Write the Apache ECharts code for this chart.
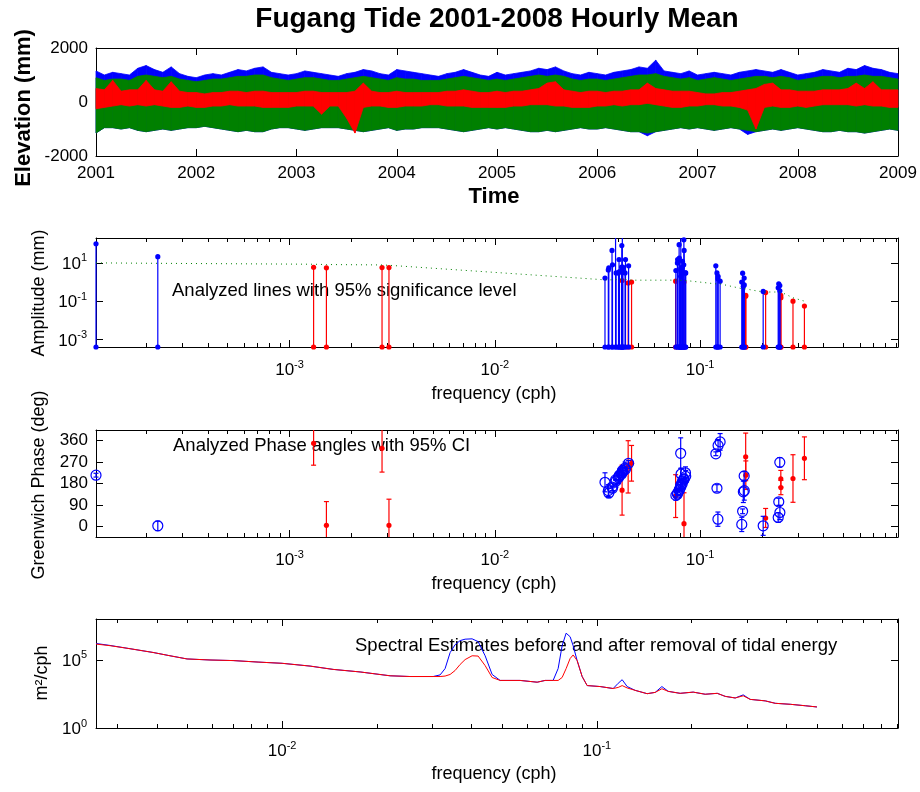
<!DOCTYPE html>
<html><head><meta charset="utf-8">
<script src="https://cdn.jsdelivr.net/npm/echarts@6.0.0/dist/echarts.min.js"></script>
<style>html,body{margin:0;padding:0;background:#fff}#c{width:920px;height:792px}</style>
</head><body><div id="c"></div>
<script>
const FONT = '"Liberation Sans", Arial, Helvetica, sans-serif';

// ---------- Panel 1: hourly elevation envelopes (mm), monthly, Jan 2001 .. Jan 2009 ----------
const obsMax = [1150,1000,1100,1050,1000,1250,1350,1200,1100,1300,1050,950,
 900,1000,1050,1000,1100,1200,1150,1250,1300,1100,1050,1000,
 1050,1150,1100,1050,1000,950,1050,1100,1200,1150,1050,1000,
 1200,1150,1100,1050,1000,950,1050,1100,1200,1100,1000,950,
 1100,1000,1050,1100,1150,1250,1200,1300,1150,1050,1000,1100,
 1050,1000,1100,1150,1200,1300,1250,1550,1150,1100,1050,1150,
 1000,1050,1100,1050,1000,1100,1150,1200,1150,1100,1200,1100,
 1000,1050,1100,1200,1150,1100,1250,1200,1350,1250,1200,1100,
 1050];
const obsMin = [-1150,-950,-950,-1000,-950,-1050,-1100,-1050,-1000,-1050,-1000,-950,
 -950,-900,-950,-1000,-1050,-1100,-1050,-1100,-1100,-1000,-950,-950,
 -1000,-1050,-1000,-950,-950,-950,-1000,-1050,-1100,-1050,-1000,-950,
 -1050,-1000,-1000,-950,-950,-950,-1000,-1050,-1100,-1050,-1000,-950,
 -1000,-950,-1000,-1050,-1100,-1100,-1050,-1100,-1050,-1000,-950,-1000,
 -1000,-950,-1000,-1050,-1100,-1100,-1250,-1100,-1050,-1000,-950,-1000,
 -950,-1000,-1050,-1000,-950,-1000,-1200,-1100,-1050,-1000,-1050,-1000,
 -950,-1000,-1050,-1100,-1100,-1050,-1100,-1100,-1150,-1100,-1050,-1000,
 -1050];
const predMax = [900,800,850,850,800,950,1000,950,900,950,850,800,
 750,800,850,850,900,950,950,1000,1000,900,850,800,
 850,900,900,850,800,800,850,900,950,900,850,800,
 900,850,850,800,800,800,850,900,950,900,850,800,
 850,800,850,900,950,1000,950,1000,950,850,800,850,
 850,800,850,900,950,1000,1000,1050,950,900,850,900,
 800,850,900,850,800,850,900,950,950,900,950,900,
 800,850,900,950,950,900,950,950,1000,950,950,900,
 850];
const predMin = [-1150,-950,-950,-1000,-950,-1050,-1100,-1050,-1000,-1050,-1000,-950,
 -950,-900,-950,-1000,-1050,-1100,-1050,-1100,-1100,-1000,-950,-950,
 -1000,-1050,-1000,-950,-950,-950,-1000,-1050,-1100,-1050,-1000,-950,
 -1050,-1000,-1000,-950,-950,-950,-1000,-1050,-1100,-1050,-1000,-950,
 -1000,-950,-1000,-1050,-1100,-1100,-1050,-1100,-1050,-1000,-950,-1000,
 -1000,-950,-1000,-1050,-1100,-1100,-1150,-1100,-1050,-1000,-950,-1000,
 -950,-1000,-1050,-1000,-950,-1000,-1050,-1100,-1050,-1000,-1050,-1000,
 -950,-1000,-1050,-1100,-1100,-1050,-1100,-1100,-1150,-1100,-1050,-1000,
 -1050];
const resMax = [500,450,800,400,450,450,800,450,400,750,400,350,
 350,300,350,350,400,400,350,400,400,350,350,350,
 350,400,400,350,350,350,350,400,700,400,350,350,
 400,350,350,350,350,350,400,400,450,400,350,350,
 400,350,400,400,450,500,700,750,450,400,350,400,
 400,350,400,400,450,450,700,500,450,400,400,400,
 350,300,300,350,350,400,450,500,650,700,450,450,
 400,400,400,450,450,450,500,700,500,750,450,450,
 450];
const resMin = [-250,-200,-150,-100,-150,-100,-150,-100,-150,-200,-200,-150,
 -200,-200,-150,-150,-100,-150,-150,-150,-200,-200,-200,-200,
 -150,-150,-150,-450,-150,-150,-600,-1150,-200,-150,-150,-200,
 -200,-150,-150,-150,-100,-100,-150,-150,-150,-200,-200,-200,
 -200,-200,-150,-150,-100,-100,-100,-150,-150,-200,-200,-200,
 -150,-150,-100,-150,-100,-100,-50,-100,-150,-200,-200,-150,
 -150,-100,-100,-150,-150,-200,-300,-1000,-200,-150,-200,-200,
 -150,-200,-150,-100,-100,-100,-100,-150,-100,-150,-150,-200,
 -200];

// ---------- Panels 2,3: tidal constituents ----------
const constNames = ['SA','SSA','MSM','MM','MSF','MF',
 'ALP1','2Q1','SIG1','Q1','RHO1','O1','TAU1','BET1','NO1','CHI1','PI1','P1','S1','K1','PSI1','PHI1','THE1','J1','SO1','OO1','UPS1',
 'OQ2','EPS2','2N2','MU2','N2','NU2','GAM2','H1','M2','H2','MKS2','LDA2','L2','T2','S2','R2','K2','MSN2','ETA2',
 'MO3','M3','SO3','MK3','SK3',
 'MN4','M4','SN4','MS4','MK4','S4','SK4',
 '2MK5','2SK5',
 '2MN6','M6','2MS6','2MK6','2SM6','MSK6',
 '3MK7','M8'];
const constFreq = [0.0001141,0.0002282,0.0013098,0.0015122,0.0028219,0.0030501,
 0.0343966,0.0357064,0.0359087,0.0372185,0.0374209,0.0387307,0.0389588,0.0400404,0.0402686,0.0404710,0.0414463,0.0415526,0.0416667,0.0417807,0.0418948,0.0420089,0.0430905,0.0432929,0.0446027,0.0448308,0.0463430,
 0.0759749,0.0761773,0.0774871,0.0776895,0.0789992,0.0792016,0.0803973,0.0804911,0.0805114,0.0805317,0.0807396,0.0818212,0.0820236,0.0832193,0.0833333,0.0834474,0.0835615,0.0848455,0.0850736,
 0.1192421,0.1207671,0.1220640,0.1222921,0.1251141,
 0.1595106,0.1610228,0.1623326,0.1638447,0.1640729,0.1666667,0.1668948,
 0.2028035,0.2084474,
 0.2400221,0.2415342,0.2443561,0.2445843,0.2471781,0.2474062,
 0.2833149,0.3220456];
const constAmp = [100,21,5.9,5.5,5.7,5.7,
 1.6,4.3,5.5,45,8,280,3,3,15,3.5,6,80,1.2,300,4,6,3,15,0.9,7,1.0,
 1.1,4,10,15,90,18,2,5,450,4,3,6,12,8,160,1.0,45,3,3,
 7,3,1.5,2,1.1,
 1.0,2.9,0.6,1.6,0.7,0.18,0.2,
 0.32,0.28,
 0.5,0.8,0.65,0.35,0.2,0.15,
 0.1,0.055];
const constAmpErr = [10,9.5,8.5,8.2,7.8,7.5,
 1.3,1.3,1.3,1.3,1.3,1.3,1.3,1.4,1.4,1.4,1.4,1.4,1.4,1.4,1.4,1.4,1.4,1.4,1.3,1.3,1.25,
 1.25,1.25,1.25,1.25,1.25,1.25,1.25,1.25,1.25,1.25,1.25,1.2,1.2,1.2,1.2,1.2,1.2,1.2,1.2,
 0.8,0.8,0.8,0.8,0.8,
 0.45,0.45,0.45,0.45,0.45,0.4,0.4,
 0.3,0.3,
 0.3,0.3,0.3,0.3,0.3,0.3,
 0.15,0.1];
const constPha = [215,2,349,4,328,4,
 185,150,140,165,160,195,190,205,210,215,220,225,152,228,235,230,245,240,250,265,265,
 127,130,135,140,150,155,307,170,165,175,220,180,190,195,200,11,198,225,210,
 305,160,30,340,355,
 8,63,145,212,150,292,215,
 2,35,
 37,103,269,58,200,163,
 201,286];
const constPhaErr = [8,20,92,100,100,110,
 40,25,20,3,10,1,25,25,6,25,15,2,105,1,20,15,25,6,110,12,75,
 90,20,8,6,1,5,65,15,0.5,18,25,12,7,9,0.5,130,2,25,25,
 8,15,30,25,35,
 30,10,45,18,40,100,60,
 40,40,
 20,15,20,30,35,30,
 100,90];

const ampTicks = [1e-3, 1e-1, 10];
const phaseTicks = [0, 90, 180, 270, 360];
const freqMajor = [1e-3, 1e-2, 1e-1];
const freqMinor = [2e-4,3e-4,4e-4,5e-4,6e-4,7e-4,8e-4,9e-4,
 2e-3,3e-3,4e-3,5e-3,6e-3,7e-3,8e-3,9e-3,
 2e-2,3e-2,4e-2,5e-2,6e-2,7e-2,8e-2,9e-2,
 0.2,0.3,0.4,0.5,0.6,0.7,0.8,0.9];

// ---------- Panel 4: spectral estimates (m^2/cph) ----------
const specFreq = [0.002564,0.00284,0.003289,0.003891,0.004406,0.00499,0.005903,0.006987,0.00839,0.01,
 0.012275,0.014527,0.017694,0.022035,0.025512,0.030194,0.031773,0.032955,0.034181,0.035451,
 0.036775,0.038148,0.040151,0.041956,0.044168,0.046486,0.049283,0.057041,0.064613,0.068508,
 0.072629,0.075336,0.077573,0.079875,0.082244,0.084081,0.086578,0.089803,0.093145,0.10245,
 0.11266,0.11686,0.12034,0.12482,0.13232,0.14447,0.1532,0.16092,0.16852,0.18393,
 0.2023,0.22088,0.24126,0.25577,0.27515,0.29171,0.307,0.34262,0.36868,0.41143,
 0.45917,0.50015];
const specObs = [1.6e6,1.15e6,6.6e5,3.5e5,2.0e5,1.17e5,9.8e4,8.9e4,6.9e4,5.6e4,
 3.5e4,2.0e4,1.3e4,6.8e3,6.0e3,6.0e3,7.9e3,2.3e4,3.4e5,1.3e6,
 2.6e6,3.3e6,3.5e6,2.2e6,2.0e5,8.5e3,3.1e3,3.1e3,2.3e3,3.1e3,
 3.1e3,2.3e4,1.1e6,9.1e6,5.0e6,1.1e6,8.9e4,6.0e3,1.3e3,1.1e3,
 790,1.9e3,3.5e3,1.1e3,580,330,410,1.1e3,490,350,
 430,300,350,210,160,270,126,98,65,55,
 43,35];
const specRes = [1.45e6,1.1e6,6.6e5,3.5e5,2.0e5,1.17e5,9.8e4,8.9e4,6.9e4,5.6e4,
 3.5e4,2.0e4,1.3e4,6.8e3,6.0e3,6.0e3,6.0e3,6.5e3,8.5e3,1.66e4,
 4.6e4,1.05e5,2.0e5,1.9e5,3.8e4,5.1e3,3.1e3,3.1e3,2.3e3,3.1e3,
 3.1e3,3.1e3,5.1e3,2.3e4,1.26e5,2.3e5,8.9e4,6.0e3,1.3e3,1.1e3,
 790,950,1.3e3,870,580,330,410,760,490,350,
 430,300,350,210,160,230,126,98,65,55,
 43,35];
const specTicksY = [1, 1e5];
const specFreqMajor = [1e-2, 1e-1];
const specFreqMinor = [3e-3,4e-3,5e-3,6e-3,7e-3,8e-3,9e-3,
 2e-2,3e-2,4e-2,5e-2,6e-2,7e-2,8e-2,9e-2,
 0.2,0.3,0.4,0.5,0.6,0.7,0.8,0.9];

// ---------- helpers ----------
const STEM_BASE = 4e-4;
const BLACK = '#000';
const BLUE = '#0000ff', RED = '#ff0000', GREEN = '#008000';

const monthTimes = obsMax.map((_, i) => 2001 + i / 12);

// filled envelope between lo and hi, drawn segment by segment through the axes
function bandRender(color) {
  return function(params, api) {
    const n = params.dataInsideLength;
    const i = params.dataIndexInside;
    if (i >= n - 1) return null;
    const t0 = api.value(0, i), l0 = api.value(1, i), h0 = api.value(2, i);
    const t1 = api.value(0, i + 1), l1 = api.value(1, i + 1), h1 = api.value(2, i + 1);
    const a = api.coord([t0, h0]), b = api.coord([t1, h1]), c = api.coord([t1, l1]), d = api.coord([t0, l0]);
    return {type:'polygon', shape:{points:[a, b, c, d]}, style:{fill:color, stroke:color, lineWidth:0.8}};
  };
}
function band(lo, hi, color) {
  return {type:'custom', xAxisIndex:0, yAxisIndex:0, silent:true, renderItem:bandRender(color),
    data: monthTimes.map((t, i) => [t, lo[i], hi[i]])};
}

function logLabel(v) { const e = Math.round(Math.log10(v)); return '{b|10}{s|' + e + '}'; }
const richSup = {
  b: {fontSize:17, fontFamily:FONT, color:BLACK, lineHeight:20, verticalAlign:'bottom'},
  s: {fontSize:11, fontFamily:FONT, color:BLACK, lineHeight:12, verticalAlign:'top'}
};

function baseAxis(extra) {
  return Object.assign({
    axisLine:{show:true, onZero:false, lineStyle:{color:BLACK, width:1}},
    splitLine:{show:false}, minorTick:{show:false}, minorSplitLine:{show:false},
    silent:true
  }, extra);
}

function logXAxes(gi, min, max, major, minor) {
  const common = {gridIndex:gi, type:'log', logBase:10, min, max};
  return [
    baseAxis(Object.assign({}, common, {position:'bottom',
      axisTick:{show:true, inside:true, length:7, lineStyle:{color:BLACK}, customValues:major},
      axisLabel:{show:true, customValues:major, formatter:logLabel, rich:richSup, margin:12}})),
    baseAxis(Object.assign({}, common, {position:'bottom', axisLine:{show:false, onZero:false},
      axisTick:{show:true, inside:true, length:4, lineStyle:{color:BLACK}, customValues:minor},
      axisLabel:{show:false}})),
    baseAxis(Object.assign({}, common, {position:'top',
      axisTick:{show:true, inside:true, length:7, lineStyle:{color:BLACK}, customValues:major},
      axisLabel:{show:false}})),
    baseAxis(Object.assign({}, common, {position:'top', axisLine:{show:false, onZero:false},
      axisTick:{show:true, inside:true, length:4, lineStyle:{color:BLACK}, customValues:minor},
      axisLabel:{show:false}}))
  ];
}

function yAxes(gi, type, min, max, ticks, labelOpt) {
  const common = {gridIndex:gi, type, min, max};
  if (type === 'log') common.logBase = 10;
  return [
    baseAxis(Object.assign({}, common, {position:'left',
      axisTick:{show:true, inside:true, length:7, lineStyle:{color:BLACK}, customValues:ticks},
      axisLabel:Object.assign({show:true, customValues:ticks, margin:8}, labelOpt)})),
    baseAxis(Object.assign({}, common, {position:'right',
      axisTick:{show:true, inside:true, length:7, lineStyle:{color:BLACK}, customValues:ticks},
      axisLabel:{show:false}}))
  ];
}

function stemRender(color) {
  return function(params, api) {
    const f = api.value(0), a = api.value(1);
    const cs = params.coordSys;
    const b = api.coord([f, STEM_BASE]);
    const t = api.coord([f, a]);
    const top = Math.max(t[1], cs.y);
    const ch = [
      {type:'line', shape:{x1:b[0], y1:b[1], x2:b[0], y2:top}, style:{stroke:color, lineWidth:1.2}},
      {type:'circle', shape:{cx:b[0], cy:b[1], r:2.6}, style:{fill:color}}
    ];
    if (t[1] >= cs.y) ch.push({type:'circle', shape:{cx:t[0], cy:t[1], r:2.6}, style:{fill:color}});
    return {type:'group', children:ch};
  };
}

function errRender(color, hollow) {
  return function(params, api) {
    const f = api.value(0), p = api.value(1), e = api.value(2);
    const cs = params.coordSys;
    const c = api.coord([f, p]);
    const lo = api.coord([f, p - e]);
    const hi = api.coord([f, p + e]);
    const yTop = cs.y, yBot = cs.y + cs.height;
    const y1 = Math.min(Math.max(hi[1], yTop), yBot);
    const y2 = Math.min(Math.max(lo[1], yTop), yBot);
    const ch = [{type:'line', shape:{x1:c[0], y1:y1, x2:c[0], y2:y2}, style:{stroke:color, lineWidth:1.2}}];
    if (hi[1] >= yTop) ch.push({type:'line', shape:{x1:c[0]-2.5, y1:hi[1], x2:c[0]+2.5, y2:hi[1]}, style:{stroke:color, lineWidth:1.2}});
    if (lo[1] <= yBot) ch.push({type:'line', shape:{x1:c[0]-2.5, y1:lo[1], x2:c[0]+2.5, y2:lo[1]}, style:{stroke:color, lineWidth:1.2}});
    if (hollow) ch.push({type:'circle', shape:{cx:c[0], cy:c[1], r:5}, style:{fill:null, stroke:color, lineWidth:1.2}});
    else ch.push({type:'circle', shape:{cx:c[0], cy:c[1], r:2.6}, style:{fill:color}});
    return {type:'group', children:ch};
  };
}

const sigIdx = constFreq.map((_, i) => i).filter(i => constAmp[i] > constAmpErr[i]);
const insIdx = constFreq.map((_, i) => i).filter(i => !(constAmp[i] > constAmpErr[i]));

const FX = [0.0001141, 0.92];
const SX = [0.002564, 0.905];

const xAxisList = [
  baseAxis({gridIndex:0, type:'value', min:2001, max:2009, interval:1, position:'bottom',
    axisTick:{show:true, inside:true, length:7, lineStyle:{color:BLACK}},
    axisLabel:{show:true, fontSize:17, fontFamily:FONT, color:BLACK, margin:9, formatter:v=>String(v)}}),
  baseAxis({gridIndex:0, type:'value', min:2001, max:2009, interval:1, position:'top',
    axisTick:{show:true, inside:true, length:7, lineStyle:{color:BLACK}}, axisLabel:{show:false}}),
  ...logXAxes(1, FX[0], FX[1], freqMajor, freqMinor),
  ...logXAxes(2, FX[0], FX[1], freqMajor, freqMinor),
  ...logXAxes(3, SX[0], SX[1], specFreqMajor, specFreqMinor)
];

const yAxisList = [
  baseAxis({gridIndex:0, type:'value', min:-2000, max:2000, interval:2000, position:'left',
    axisTick:{show:true, inside:true, length:7, lineStyle:{color:BLACK}},
    axisLabel:{show:true, fontSize:17, fontFamily:FONT, color:BLACK, margin:8, formatter:v=>String(v)}}),
  baseAxis({gridIndex:0, type:'value', min:-2000, max:2000, interval:2000, position:'right',
    axisTick:{show:true, inside:true, length:7, lineStyle:{color:BLACK}}, axisLabel:{show:false}}),
  ...yAxes(1, 'log', STEM_BASE, 200, ampTicks, {formatter:logLabel, rich:richSup, margin:9}),
  ...yAxes(2, 'value', -45, 405, phaseTicks, {fontSize:17, fontFamily:FONT, color:BLACK, margin:8, formatter:v=>String(v)}),
  ...yAxes(3, 'log', 1, 1e8, specTicksY, {formatter:logLabel, rich:richSup, margin:9})
];

const series = [
  band(obsMin, obsMax, BLUE),
  band(predMin, predMax, GREEN),
  band(resMin, resMax, RED),
  {type:'custom', xAxisIndex:2, yAxisIndex:2, renderItem:stemRender(RED), silent:true,
   data: insIdx.map(i => [constFreq[i], constAmp[i]])},
  {type:'custom', xAxisIndex:2, yAxisIndex:2, renderItem:stemRender(BLUE), silent:true,
   data: sigIdx.map(i => [constFreq[i], constAmp[i]])},
  {type:'line', xAxisIndex:2, yAxisIndex:2, symbol:'none', silent:true,
   lineStyle:{color:GREEN, width:1, type:[1,4]},
   data: constFreq.map((f, i) => [f, constAmpErr[i]])},
  {type:'custom', xAxisIndex:6, yAxisIndex:4, renderItem:errRender(RED, false), silent:true,
   data: insIdx.map(i => [constFreq[i], constPha[i], constPhaErr[i]])},
  {type:'custom', xAxisIndex:6, yAxisIndex:4, renderItem:errRender(BLUE, true), silent:true,
   data: sigIdx.map(i => [constFreq[i], constPha[i], constPhaErr[i]])},
  {type:'line', xAxisIndex:10, yAxisIndex:6, symbol:'none', silent:true,
   lineStyle:{color:BLUE, width:1}, data: specFreq.map((f, i) => [f, specObs[i]])},
  {type:'line', xAxisIndex:10, yAxisIndex:6, symbol:'none', silent:true,
   lineStyle:{color:RED, width:1}, data: specFreq.map((f, i) => [f, specRes[i]])}
];

function txt(x, y, text, font) {
  return {type:'text', x, y, silent:true,
    style:{text, font, fill:BLACK, align:'center', verticalAlign:'middle', textAlign:'center', textVerticalAlign:'middle'}};
}
function rtxt(x, y, text, font) {
  const t = txt(x, y, text, font); t.rotation = Math.PI / 2; return t;
}
function ltxt(x, y, text, font) {
  return {type:'text', x, y, silent:true,
    style:{text, font, fill:BLACK, align:'left', verticalAlign:'middle', textAlign:'left', textVerticalAlign:'middle'}};
}

const chart = echarts.init(document.getElementById('c'), null, {renderer:'canvas'});
chart.setOption({
  animation:false,
  backgroundColor:'#ffffff',
  grid:[
    {left:96, top:48, width:802, height:108, containLabel:false, outerBoundsMode:'none'},
    {left:96, top:238, width:802, height:109, containLabel:false, outerBoundsMode:'none'},
    {left:96, top:430, width:802, height:107, containLabel:false, outerBoundsMode:'none'},
    {left:96, top:619, width:802, height:109, containLabel:false, outerBoundsMode:'none'}
  ],
  xAxis:xAxisList,
  yAxis:yAxisList,
  series,
  graphic:[
    txt(497, 19, 'Fugang Tide 2001-2008 Hourly Mean', 'bold 28px ' + FONT),
    rtxt(24, 108, 'Elevation (mm)', 'bold 22px ' + FONT),
    txt(494, 197, 'Time', 'bold 22px ' + FONT),
    rtxt(39, 293, 'Amplitude (mm)', '18px ' + FONT),
    txt(494, 394, 'frequency (cph)', '18px ' + FONT),
    rtxt(39, 485, 'Greenwich Phase (deg)', '18px ' + FONT),
    txt(494, 584, 'frequency (cph)', '18px ' + FONT),
    rtxt(42, 673, 'm²/cph', '18px ' + FONT),
    txt(494, 774, 'frequency (cph)', '18px ' + FONT),
    ltxt(172, 291, 'Analyzed lines with 95% significance level', '18.5px ' + FONT),
    ltxt(173, 446, 'Analyzed Phase angles with 95% CI', '18.5px ' + FONT),
    ltxt(355, 646, 'Spectral Estimates before and after removal of tidal energy', '18.5px ' + FONT)
  ]
});
</script></body></html>
